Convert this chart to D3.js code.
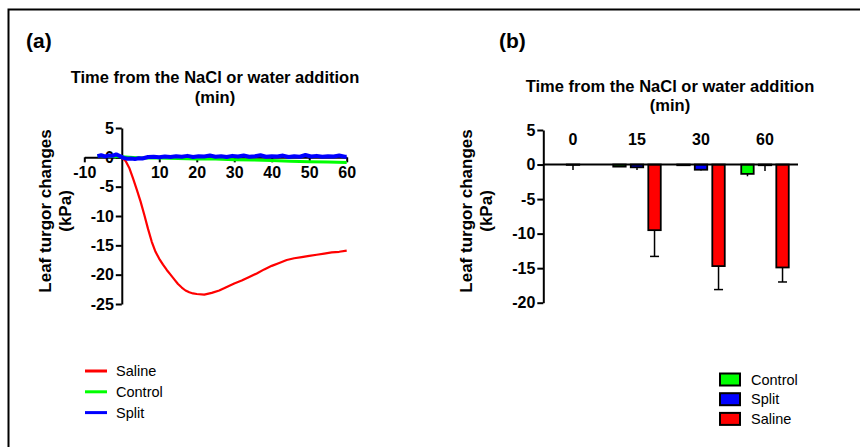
<!DOCTYPE html>
<meta charset="utf-8">
<style>
body { margin: 0; background: #fff; }
svg { font-family: "Liberation Sans", Arial, sans-serif; }
.axis path, .axis line { stroke: #000; stroke-width: 2; }
.axis text { font-size: 16px; font-weight: bold; fill: #000; }
.lbl { font-weight: bold; fill: #000; }
.leg { font-size: 14.5px; fill: #000; }
</style>
<svg width="860" height="447"></svg>
<script src="https://cdn.jsdelivr.net/npm/d3@7"></script>
<script>

// ---- panel (a) : continuous recordings ----
var salineTime = [0, 1, 2, 3, 4, 5, 6, 7, 8, 9, 10, 11, 12, 13, 14, 15, 16, 17, 18, 19, 20, 22, 24, 26, 28, 30,
                  32, 34, 36, 38, 40, 42, 44, 46, 48, 50, 52, 54, 56, 58, 60];
var salineKPa  = [0, -0.6, -1.8, -3.6, -5.5, -7.5, -9.8, -12.2, -14.4, -16.1, -17.3, -18.3, -19.2, -20, -20.8,
                  -21.6, -22.2, -22.7, -23, -23.2, -23.3, -23.4, -23.1, -22.7, -22.1, -21.5, -21, -20.4, -19.8,
                  -19.1, -18.5, -18, -17.5, -17.2, -17, -16.8, -16.6, -16.4, -16.2, -16.1, -15.9];

var controlTime = [-6.5, -5, 0, 5, 10, 15, 20, 25, 30, 35, 40, 45, 50, 55, 60];
var controlKPa  = [0.3, 0.2, 0.1, -0.1, -0.1, -0.2, -0.3, -0.3, -0.4, -0.45, -0.55, -0.65, -0.75, -0.8, -0.9];

var splitTime = [-6.5, -5.5, -4.5, -3.5, -2.5, -1.5, -0.5, 0.5, 1.5, 2.5, 3.5, 4.5, 5.5, 7, 8.5, 10, 11.5, 13,
                 14.5, 16, 17.5, 19, 20.5, 22, 23.5, 25, 26.5, 28, 29.5, 31, 32.5, 34, 35.5, 37, 38.5, 40, 41.5,
                 43, 44.5, 46, 47.5, 49, 50.5, 52, 53.5, 55, 56.5, 58, 59.5, 60];
var splitKPa  = [0.2, 0.35, 0.15, 0.3, 0.25, 0.5, 0.2, -0.1, -0.25, -0.2, -0.3, -0.15, -0.2, 0.05, 0.1, 0.0,
                 0.15, 0.05, 0.2, 0.1, 0.25, 0.05, 0.2, 0.15, 0.3, 0.1, 0.2, 0.05, 0.25, 0.15, 0.3, 0.1, 0.2,
                 0.35, 0.1, 0.2, 0.15, 0.3, 0.05, 0.2, 0.1, 0.4, 0.15, 0.25, 0.1, 0.2, 0.15, 0.3, 0.1, 0.1];

var xTicksA = [-10, 10, 20, 30, 40, 50, 60];
var yTicksA = [5, 0, -5, -10, -15, -20, -25];

// ---- panel (b) : means at fixed times ----
var times = ["0", "15", "30", "60"];
var groups = ["Control", "Split", "Saline"];
var controlMean = [0, -0.3, -0.1, -1.35];
var controlErr  = [0, 0, 0, 0.35];
var splitMean   = [-0.05, -0.4, -0.75, -0.1];
var splitErr    = [0.75, 0.4, 0.12, 0.85];
var salineMean  = [0, -9.5, -14.7, -14.9];
var salineErr   = [0, 3.8, 3.4, 2.1];
var yTicksB = [5, 0, -5, -10, -15, -20];

var colors = {Saline: "#ff0000", Control: "#00ff00", Split: "#0000ff"};

var svg = d3.select("svg");

// frame
svg.append("rect")
    .attr("x", 8.5).attr("y", 9.5)
    .attr("width", 900).attr("height", 500)
    .attr("fill", "none").attr("stroke", "#000").attr("stroke-width", 2);

function fmt(d) { return String(d); }

// ******************** panel (a) ********************
var xa = d3.scaleLinear().domain([-10, 60]).range([84.3, 346.7]);
var ya = d3.scaleLinear().domain([-25, 5]).range([304, 128]);

svg.append("text").attr("class", "lbl").attr("x", 26).attr("y", 48)
    .style("font-size", "21px").text("(a)");

svg.append("text").attr("class", "lbl").attr("text-anchor", "middle")
    .style("font-size", "16.5px").attr("x", 215).attr("y", 83)
    .text("Time from the NaCl or water addition");
svg.append("text").attr("class", "lbl").attr("text-anchor", "middle")
    .style("font-size", "16.5px").attr("x", 215).attr("y", 103)
    .text("(min)");

var ylabA = svg.append("text").attr("class", "lbl").attr("text-anchor", "middle")
    .style("font-size", "17px")
    .attr("transform", "translate(51,211) rotate(-90)");
ylabA.append("tspan").attr("x", 0).attr("y", 0).text("Leaf turgor changes");
ylabA.append("tspan").attr("x", 0).attr("y", 20).text("(kPa)");

svg.append("g").attr("class", "axis")
    .attr("transform", "translate(" + xa(0) + ",0)")
    .call(d3.axisLeft(ya).tickValues(yTicksA).tickFormat(fmt).tickSize(6).tickPadding(2).tickSizeOuter(0));

svg.append("g").attr("class", "axis")
    .attr("transform", "translate(0," + ya(0) + ")")
    .call(d3.axisBottom(xa).tickValues(xTicksA).tickFormat(fmt).tickSize(5).tickPadding(4).tickSizeOuter(0));

var line = d3.line().x(function(d) { return xa(d[0]); }).y(function(d) { return ya(d[1]); });

var series = [
  {name: "Saline", t: salineTime, v: salineKPa, w: 2.2},
  {name: "Control", t: controlTime, v: controlKPa, w: 3},
  {name: "Split", t: splitTime, v: splitKPa, w: 4}
];

svg.append("g").selectAll("path")
    .data(series)
  .enter().append("path")
    .attr("fill", "none")
    .attr("stroke", function(d) { return colors[d.name]; })
    .attr("stroke-width", function(d) { return d.w; })
    .attr("stroke-linejoin", "round")
    .attr("d", function(d) { return line(d.t.map(function(t, i) { return [t, d.v[i]]; })); });

var legA = svg.append("g").selectAll("g")
    .data(series)
  .enter().append("g")
    .attr("transform", function(d, i) { return "translate(0," + (371 + i * 20.8) + ")"; });
legA.append("line").attr("x1", 85).attr("x2", 107)
    .attr("stroke", function(d) { return colors[d.name]; }).attr("stroke-width", 3);
legA.append("text").attr("class", "leg").attr("x", 116).attr("dy", "0.35em")
    .text(function(d) { return d.name; });

// ******************** panel (b) ********************
var xb = d3.scaleBand().domain(times).range([541, 797]);
var xs = d3.scaleBand().domain(groups).range([0, xb.bandwidth()]).paddingInner(0.29).paddingOuter(0.47);
var yb = d3.scaleLinear().domain([-20, 5]).range([302.7, 130]);

svg.append("text").attr("class", "lbl").attr("x", 499).attr("y", 48)
    .style("font-size", "21px").text("(b)");

svg.append("text").attr("class", "lbl").attr("text-anchor", "middle")
    .style("font-size", "16.5px").attr("x", 670).attr("y", 91.5)
    .text("Time from the NaCl or water addition");
svg.append("text").attr("class", "lbl").attr("text-anchor", "middle")
    .style("font-size", "16.5px").attr("x", 670).attr("y", 111)
    .text("(min)");

var ylabB = svg.append("text").attr("class", "lbl").attr("text-anchor", "middle")
    .style("font-size", "17px")
    .attr("transform", "translate(471.5,211) rotate(-90)");
ylabB.append("tspan").attr("x", 0).attr("y", 0).text("Leaf turgor changes");
ylabB.append("tspan").attr("x", 0).attr("y", 20).text("(kPa)");

svg.append("g").attr("class", "axis")
    .attr("transform", "translate(543.3,0)")
    .call(d3.axisLeft(yb).tickValues(yTicksB).tickFormat(fmt).tickSize(6).tickPadding(2).tickSizeOuter(0));

// time labels above the zero line
svg.append("g").selectAll("text")
    .data(times)
  .enter().append("text")
    .attr("class", "lbl").style("font-size", "16px").attr("text-anchor", "middle")
    .attr("x", function(d) { return xb(d) + xb.bandwidth() / 2; })
    .attr("y", 139).attr("dy", "0.35em")
    .text(function(d) { return d; });

var barData = [];
times.forEach(function(t, i) {
  barData.push({time: t, group: "Control", mean: controlMean[i], err: controlErr[i]});
  barData.push({time: t, group: "Split", mean: splitMean[i], err: splitErr[i]});
  barData.push({time: t, group: "Saline", mean: salineMean[i], err: salineErr[i]});
});

var bar = svg.append("g").selectAll("g")
    .data(barData)
  .enter().append("g")
    .attr("transform", function(d) { return "translate(" + (xb(d.time) + xs(d.group)) + ",0)"; });

bar.filter(function(d) { return d.err > 0; }).append("line")
    .attr("x1", xs.bandwidth() / 2).attr("x2", xs.bandwidth() / 2)
    .attr("y1", function(d) { return yb(d.mean); })
    .attr("y2", function(d) { return yb(d.mean - d.err); })
    .attr("stroke", "#000").attr("stroke-width", 1.5);
bar.filter(function(d) { return d.err > 1; }).append("line")
    .attr("x1", xs.bandwidth() / 2 - 4.5).attr("x2", xs.bandwidth() / 2 + 4.5)
    .attr("y1", function(d) { return yb(d.mean - d.err); })
    .attr("y2", function(d) { return yb(d.mean - d.err); })
    .attr("stroke", "#000").attr("stroke-width", 1.5);

bar.append("rect")
    .attr("width", xs.bandwidth())
    .attr("y", function(d) { return yb(Math.max(0, d.mean)); })
    .attr("height", function(d) { return Math.abs(yb(d.mean) - yb(0)); })
    .attr("fill", function(d) { return colors[d.group]; })
    .attr("stroke", "#000").attr("stroke-width", 1.8);

svg.append("g").attr("class", "axis")
    .append("line")
    .attr("x1", 543.3).attr("x2", 798).attr("y1", yb(0)).attr("y2", yb(0));

var legB = svg.append("g").selectAll("g")
    .data(groups)
  .enter().append("g")
    .attr("transform", function(d, i) { return "translate(0," + (379.5 + i * 19.7) + ")"; });
legB.append("rect").attr("x", 720).attr("y", -6).attr("width", 20).attr("height", 12)
    .attr("fill", function(d) { return colors[d]; })
    .attr("stroke", "#000").attr("stroke-width", 2);
legB.append("text").attr("class", "leg").attr("x", 751).attr("dy", "0.35em")
    .text(function(d) { return d; });

</script>
